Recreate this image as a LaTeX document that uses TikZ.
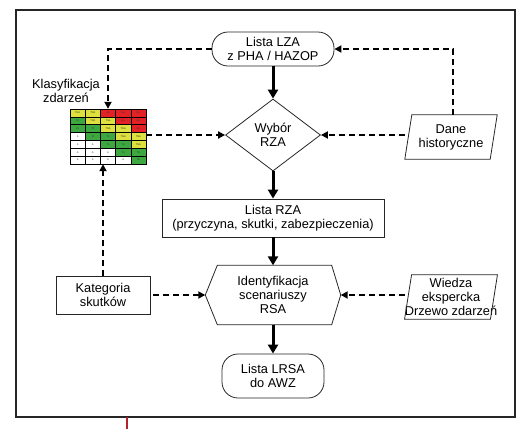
\documentclass[tikz,border=0pt]{standalone}
\usepackage{fontspec}
\setmainfont{Liberation Sans}
\usetikzlibrary{arrows.meta, shapes.geometric}

\definecolor{riskred}{RGB}{228,34,38}
\definecolor{riskyellow}{RGB}{222,224,62}
\definecolor{riskgreen}{RGB}{62,168,64}
\definecolor{framered}{RGB}{178,34,40}

\begin{document}
\begin{tikzpicture}[
  x=1pt, y=-1pt,
  every node/.style={font=\fontsize{12.8}{14}\selectfont, align=center, inner sep=0pt},
  box/.style={draw=black!85, line width=0.8pt},
  terminal/.style={box, rectangle, rounded corners=16pt},
  flow/.style={line width=3pt, -{Triangle[length=9pt,width=10pt]}},
  feed/.style={line width=2pt, dash pattern=on 6pt off 4pt, -{Triangle[length=7pt,width=7pt]}},
  cell/.style={draw, line width=0.6pt, minimum width=15.2pt, minimum height=7.86pt,
    font=\fontsize{2.5}{3}\selectfont, text=black!80},
  cell r/.style={cell, fill=riskred, node contents={NA}},
  cell y/.style={cell, fill=riskyellow, node contents={TNA}},
  cell g/.style={cell, fill=riskgreen, node contents={TA}},
  cell w/.style={cell, fill=white, node contents={A}}
]
\useasboundingbox (0,0) rectangle (529,429);
\draw[line width=1.2pt, black!85] (16,10) rectangle (515,417);
\draw[line width=2pt, framered] (127,417) -- (127,429);

% main column
\node[terminal, minimum width=122pt, minimum height=34pt] (lza) at (273,49) {Lista LZA\\z PHA / HAZOP};
\node[box, diamond, aspect=1.3, minimum width=95pt, minimum height=72pt] (wyb) at (273,135) {Wybór\\RZA};
\node[box, minimum width=222pt, minimum height=38pt] (rza) at (273,218) {Lista RZA\\(przyczyna, skutki, zabezpieczenia)};
\node[minimum width=135pt, minimum height=59pt] (rsa) at (273,295) {Identyfikacja\\scenariuszy\\RSA};
\node[terminal, minimum width=102pt, minimum height=44pt] (lrsa) at (273,376) {Lista LRSA\\do AWZ};
\draw[box] (rsa.west) -- ([xshift=12pt]rsa.north west) -- ([xshift=-9pt]rsa.north east) -- (rsa.east)
  -- ([xshift=-9pt]rsa.south east) -- ([xshift=12pt]rsa.south west) -- cycle;

% inputs
\node[minimum width=92pt, minimum height=44pt] (dane) at (451,137) {Dane\\historyczne};
\node[minimum width=92pt, minimum height=44pt] (wie) at (451,297) {Wiedza\\ekspercka\\Drzewo zdarzeń};
\foreach \p in {dane,wie}
  \draw[box] ([xshift=7pt]\p.north west) -- (\p.north east) -- ([xshift=-7pt]\p.south east) -- (\p.south west) -- cycle;
\node[box, minimum width=94pt, minimum height=38pt] (kat) at (103,295) {Kategoria\\skutków};

% risk matrix
\node (klaslab) at (66,91) {Klasyfikacja\\zdarzeń};
\node[minimum width=76pt, minimum height=55pt] (klas) at (108,136.5) {};
\foreach \cells [count=\r from 0] in {{y,y,r,r,r},{g,y,y,r,r},{g,g,y,y,r},{w,g,g,y,y},{w,w,g,g,y},{w,w,w,g,g},{w,w,w,w,g}}
  \foreach \kind [count=\k from 0] in \cells
    \node (m-\r-\k) at ({77.6+15.2*\k},{112.93+7.86*\r}) [cell \kind];

% connectors
\draw[flow] (lza.south) -- (wyb.north);
\draw[flow] (wyb.south) -- (rza.north);
\draw[flow] (rza.south) -- (rsa.north);
\draw[flow] (rsa.south) -- (lrsa.north);
\draw[feed] (lza.west) -| (klas.north);
\draw[feed] ([xshift=2pt]dane.north) |- (lza.east);
\draw[feed] (dane.west |- wyb.east) -- (wyb.east);
\draw[feed] (klas.east |- wyb.west) -- (wyb.west);
\draw[feed] (kat.north) -- (kat.north |- klas.south);
\draw[feed, shorten <=3pt] (kat.east) -- (rsa.west);
\draw[feed] (wie.west |- rsa.east) -- (rsa.east);
\end{tikzpicture}
\end{document}
